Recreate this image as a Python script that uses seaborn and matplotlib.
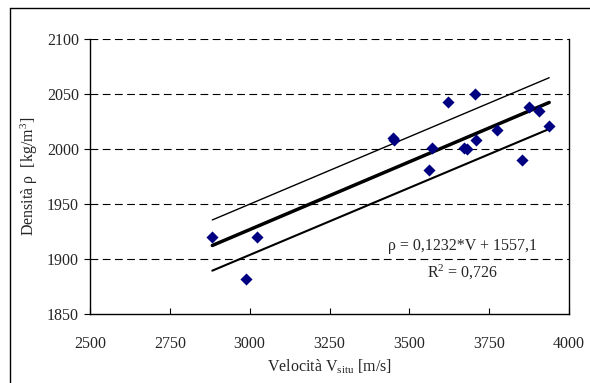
import numpy as np
import pandas as pd
import seaborn as sns
import matplotlib.pyplot as plt
from matplotlib.lines import Line2D

velocity = [2883, 3022, 2988, 3450, 3453, 3572, 3563, 3622, 3707, 3671,
            3682, 3708, 3774, 3854, 3875, 3905, 3938]
density = [1920, 1920, 1882, 2010, 2008, 2001, 1981, 2043, 2050, 2001,
           2000, 2008, 2017, 1990, 2038, 2035, 2021]

# regression line and band ends
fit_v = [2883, 3938]
fit_rho = [1912.3, 2042.3]
upper_rho = [1935.5, 2064.8]
lower_rho = [1889.4, 2018.2]

x_ticks = [2500, 2750, 3000, 3250, 3500, 3750, 4000]
y_ticks = [1850, 1900, 1950, 2000, 2050, 2100]

df = pd.DataFrame({'V': velocity, 'rho': density})

sns.set_style('white')
plt.rcParams['font.family'] = ['Liberation Serif', 'DejaVu Serif']
plt.rcParams['mathtext.fontset'] = 'custom'
plt.rcParams['mathtext.rm'] = 'Liberation Serif'
plt.rcParams['mathtext.it'] = 'Liberation Serif'

fig = plt.figure(figsize=(5.9, 3.83), dpi=100)
ax = fig.add_axes([90 / 590, 1 - 314 / 383, 479 / 590, 275 / 383])

# dashed grid
for y in y_ticks[1:]:
    ax.axhline(y, color='black', lw=0.8, ls=(0, (7, 4)), zorder=0)

sns.lineplot(x=fit_v, y=upper_rho, color='black', lw=1.0, ax=ax)
sns.lineplot(x=fit_v, y=lower_rho, color='black', lw=1.5, ax=ax)
sns.lineplot(x=fit_v, y=fit_rho, color='black', lw=2.5, ax=ax)
sns.scatterplot(data=df, x='V', y='rho', marker='D', color='#000080',
                s=38, edgecolor='#000080', linewidth=0, ax=ax, zorder=5)

ax.set_xlim(2500, 4000)
ax.set_ylim(1850, 2100)
ax.set_xticks(x_ticks)
ax.set_yticks(y_ticks)
ax.tick_params(axis='x', direction='in', length=4, labelsize=11.5, pad=16, color='black', bottom=True)
ax.tick_params(axis='y', direction='out', length=4, labelsize=11.5, pad=4, color='black', left=True)

for side in ['left', 'bottom', 'right']:
    ax.spines[side].set_color('black')
    ax.spines[side].set_linewidth(1.0)
ax.spines['top'].set_visible(False)

ax.set_xlabel('Velocità V$_{\\mathrm{situ}}$ [m/s]', fontsize=11.5, labelpad=4)
ax.set_ylabel('Densità ρ  [kg/m$^{3}$]', fontsize=11.5, labelpad=5)

ax.text(3668, 1912, 'ρ = 0,1232*V + 1557,1', ha='center', va='center', fontsize=11.5)
ax.text(3668, 1887.5, 'R$^{2}$ = 0,726', ha='center', va='center', fontsize=11.5)

# outer frame (left and top edges visible)
fig.add_artist(Line2D([10 / 590, 10 / 590], [0, 1 - 8 / 383], transform=fig.transFigure,
                      color='black', lw=1.0))
fig.add_artist(Line2D([10 / 590, 1], [1 - 8 / 383, 1 - 8 / 383], transform=fig.transFigure,
                      color='black', lw=1.0))

fig.savefig('out.png', dpi=100)
